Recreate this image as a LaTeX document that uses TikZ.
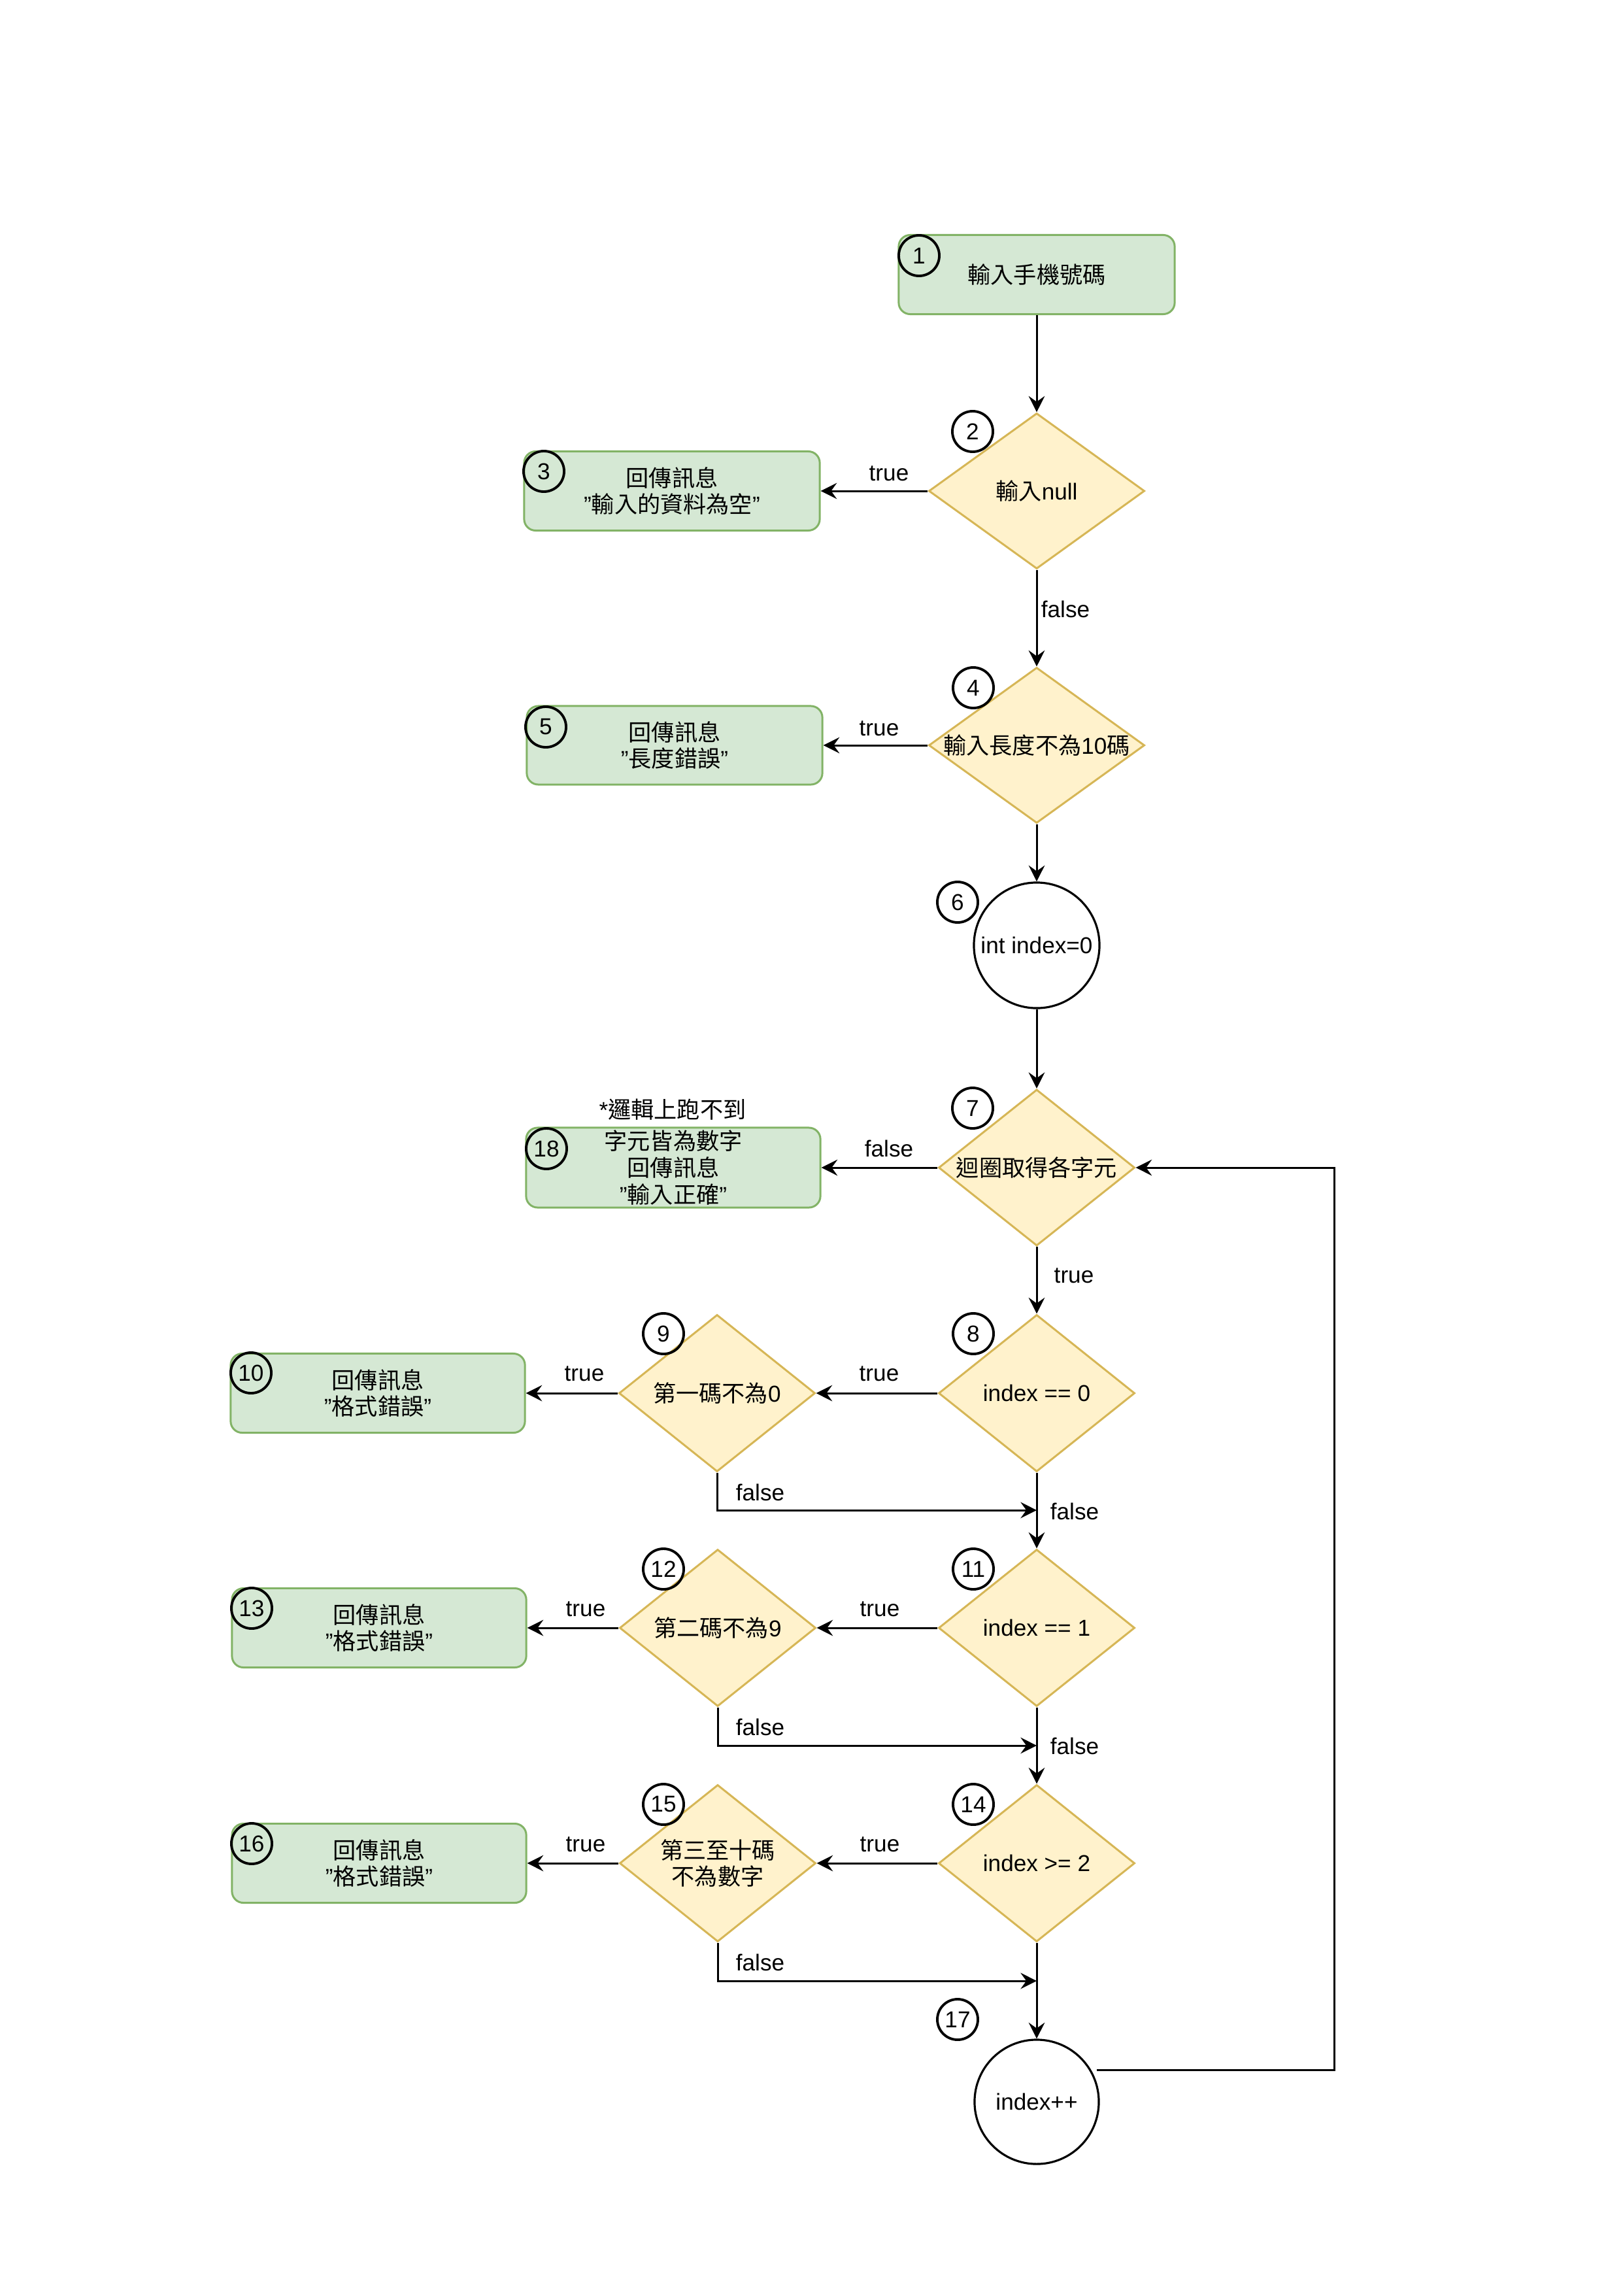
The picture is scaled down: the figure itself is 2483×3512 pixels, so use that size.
\documentclass[tikz,border=0pt]{standalone}
\usepackage{fontspec}
\setmainfont{Liberation Sans}
\newfontfamily\cjk{Noto Sans CJK TC}
\usetikzlibrary{shapes.geometric,arrows.meta}
\newcommand{\zh}[1]{{\cjk #1}}
\newcommand{\txt}{\fontsize{10}{11.6}\selectfont}
\definecolor{procfill}{HTML}{D5E8D4}
\definecolor{procline}{HTML}{82B366}
\definecolor{condfill}{HTML}{FFF2CC}
\definecolor{condline}{HTML}{D6B656}
\begin{document}
\begin{tikzpicture}[x=0.01cm,y=-0.01cm,
  proc/.style={draw=procline, fill=procfill, line width=0.85pt, rounded corners=5pt,
    minimum width=4.5cm, minimum height=1.21cm, inner sep=0pt, align=center, font=\txt},
  cond/.style={shape=diamond, draw=condline, fill=condfill, line width=0.85pt,
    inner sep=0pt, minimum width=3cm, minimum height=2.4cm},
  state/.style={circle, draw=black, line width=0.9pt, minimum size=1.92cm, inner sep=0pt},
  badge/.style={circle, draw=black, line width=1.1pt, minimum size=0.62cm, inner sep=0pt, font=\txt},
  lbl/.style={font=\txt, inner sep=0pt, align=center},
  flow/.style={-{Stealth[length=7pt,width=7pt,inset=2.5pt]}, line width=0.85pt}]
\useasboundingbox (0,0) rectangle (2483,3512);

% ---- main column ----
\node[proc, minimum width=4.22cm] (r1) at (1586,420) {\zh{輸入手機號碼}};
\node[cond, minimum width=3.30cm, minimum height=2.38cm] (d2) at (1586,751) {};
\node[lbl] (t2) at (d2) {\zh{輸入}null};
\node[cond, minimum width=3.30cm, minimum height=2.38cm] (d4) at (1586,1140) {};
\node[lbl] (t4) at (d4) {\zh{輸入長度不為}10\zh{碼}};
\node[state] (c6) at (1586,1446) {};
\node[lbl] (t6) at (c6) {int index=0};
\node[cond, minimum height=2.39cm] (d7) at (1586,1786) {};
\node[lbl] (t7) at (d7) {\zh{迴圈取得各字元}};
\node[cond] (d8) at (1586,2131) {};
\node[lbl] (t8) at (d8) {index == 0};
\node[cond] (d11) at (1586,2490) {};
\node[lbl] (t11) at (d11) {index == 1};
\node[cond] (d14) at (1586,2850) {};
\node[lbl] (t14) at (d14) {index >= 2};
\node[state, minimum size=1.90cm] (c17) at (1586,3215) {};
\node[lbl] (t17) at (c17) {index++};

% ---- inner checks ----
\node[cond] (d9) at (1097,2131) {};
\node[lbl] (t9) at (d9) {\zh{第一碼不為}0};
\node[cond] (d12) at (1098,2490) {};
\node[lbl] (t12) at (d12) {\zh{第二碼不為}9};
\node[cond] (d15) at (1098,2850) {};
\node[lbl] (t15) at (d15) {\zh{第三至十碼}\\\zh{不為數字}};

% ---- result boxes ----
\node[proc, minimum width=4.52cm] (r3) at (1028,751) {\zh{回傳訊息}\\"\zh{輸入的資料為空}"};
\node[proc, minimum width=4.52cm, minimum height=1.20cm] (r5) at (1032,1140) {\zh{回傳訊息}\\"\zh{長度錯誤}"};
\node[proc, minimum height=1.22cm] (r18) at (1030,1786) {\zh{字元皆為數字}\\\zh{回傳訊息}\\"\zh{輸入正確}"};
\node[lbl] (note18) at (1029,1697) {*\zh{邏輯上跑不到}};
\node[proc] (r10) at (578,2131) {\zh{回傳訊息}\\"\zh{格式錯誤}"};
\node[proc] (r13) at (580,2490) {\zh{回傳訊息}\\"\zh{格式錯誤}"};
\node[proc] (r16) at (580,2850) {\zh{回傳訊息}\\"\zh{格式錯誤}"};

% ---- step numbers ----
\node[badge] (b1) at (1406,391) {1};
\node[badge] (b2) at (1488,660) {2};
\node[badge] (b3) at (832,721) {3};
\node[badge] (b4) at (1489,1052) {4};
\node[badge] (b5) at (835,1112) {5};
\node[badge] (b6) at (1465,1380) {6};
\node[badge] (b7) at (1488,1695) {7};
\node[badge] (b18) at (836,1757) {18};
\node[badge] (b8) at (1489,2040) {8};
\node[badge] (b9) at (1015,2040) {9};
\node[badge] (b10) at (384,2100) {10};
\node[badge] (b11) at (1489,2400) {11};
\node[badge] (b12) at (1015,2400) {12};
\node[badge] (b13) at (385,2460) {13};
\node[badge] (b14) at (1489,2760) {14};
\node[badge] (b15) at (1015,2760) {15};
\node[badge] (b16) at (385,2820) {16};
\node[badge] (b17) at (1465,3089) {17};

% ---- merge points on the main column ----
\coordinate (j1) at (1586,2310);
\coordinate (j2) at (1586,2670);
\coordinate (j3) at (1586,3030);

% ---- connectors ----
\draw[flow] (r1) -- (d2);
\draw[flow] (d2.west) -- (r3.east);
\draw[flow] (d2.south) -- (d4.north);
\draw[flow] (d4.west) -- (r5.east);
\draw[flow] (d4.south) -- (c6.north);
\draw[flow] (c6.south) -- (d7.north);
\draw[flow] (d7.west) -- (r18.east);
\draw[flow] (d7.south) -- (d8.north);
\draw[flow] (d8.west) -- (d9.east);
\draw[flow] (d9.west) -- (r10.east);
\draw[flow] (d9.south) |- (j1);
\draw[flow] (d8.south) -- (d11.north);
\draw[flow] (d11.west) -- (d12.east);
\draw[flow] (d12.west) -- (r13.east);
\draw[flow] (d12.south) |- (j2);
\draw[flow] (d11.south) -- (d14.north);
\draw[flow] (d14.west) -- (d15.east);
\draw[flow] (d15.west) -- (r16.east);
\draw[flow] (d15.south) |- (j3);
\draw[flow] (d14.south) -- (c17.north);
\draw[flow] (c17.30) ++(8,0) -- ++(364,0) |- (d7.east);

% ---- connector labels ----
\node[lbl] (l1) at (1360,724) {true};
\node[lbl] (l2) at (1630,932) {false};
\node[lbl] (l3) at (1345,1114) {true};
\node[lbl] (l4) at (1360,1757) {false};
\node[lbl] (l5) at (1643,1951) {true};
\node[lbl] (l6) at (1345,2101) {true};
\node[lbl] (l7) at (894,2101) {true};
\node[lbl] (l8) at (1163,2283) {false};
\node[lbl] (l9) at (1644,2312) {false};
\node[lbl] (l10) at (1346,2461) {true};
\node[lbl] (l11) at (896,2461) {true};
\node[lbl] (l12) at (1163,2642) {false};
\node[lbl] (l13) at (1644,2671) {false};
\node[lbl] (l14) at (1346,2821) {true};
\node[lbl] (l15) at (896,2821) {true};
\node[lbl] (l16) at (1163,3002) {false};
\end{tikzpicture}
\end{document}
